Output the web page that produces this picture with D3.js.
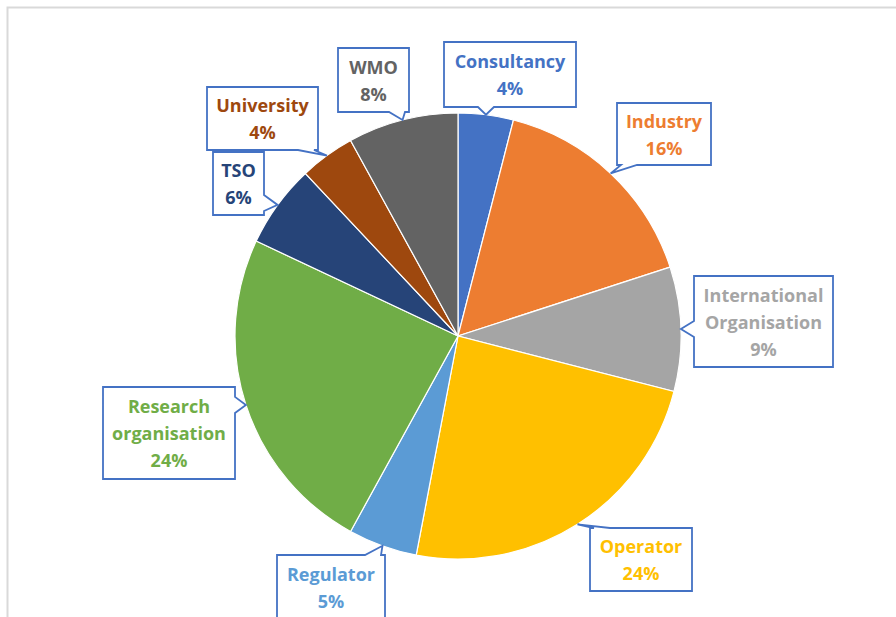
<!DOCTYPE html>
<html>
<head>
<meta charset="utf-8">
<script src="https://cdn.jsdelivr.net/npm/d3@7"></script>
<style>
  html, body { margin: 0; padding: 0; background: #fff; }
  svg { display: block; }
  .lbl { font-family: "Open Sans", "Liberation Sans", sans-serif; font-weight: 700; font-size: 18px; }
</style>
</head>
<body>
<div id="chart"></div>
<script>
// Datos (desde las 12 en punto, sentido horario)
const categorias = ["Consultancy", "Industry", "International Organisation", "Operator",
  "Regulator", "Research organisation", "TSO", "University", "WMO"];
const valores = [4, 16, 9, 24, 5, 24, 6, 4, 8];
const colores = ["#4472C4", "#ED7D31", "#A5A5A5", "#FFC000",
  "#5B9BD5", "#70AD47", "#264478", "#9E480E", "#636363"];
// lineas de texto de cada etiqueta
const lineas = [["Consultancy"], ["Industry"], ["International", "Organisation"], ["Operator"],
  ["Regulator"], ["Research", "organisation"], ["TSO"], ["University"], ["WMO"]];

// Cajas de las etiquetas (x0, y0, x1, y1)
const cajas = [
  [444, 42, 576, 107],
  [617, 103, 711, 165],
  [694, 276, 833, 367],
  [590, 528, 692, 591],
  [277, 555, 385, 620],
  [103, 387, 235, 479],
  [213, 152, 264, 215],
  [207, 87, 318, 150],
  [338, 48, 409, 112]
];

const width = 896, height = 617;
const cx = 458, cy = 336, radio = 223;

const svg = d3.select("#chart").append("svg")
  .attr("width", width).attr("height", height);

// Marco gris
svg.append("rect")
  .attr("x", 7.5).attr("y", 7.5)
  .attr("width", width + 20).attr("height", height + 20)
  .attr("fill", "none").attr("stroke", "#d9d9d9").attr("stroke-width", 2);

const datos = categorias.map((c, i) => ({ cat: c, v: valores[i], color: colores[i], lineas: lineas[i], caja: cajas[i] }));

const pie = d3.pie().value(d => d.v).sort(null);
const arcs = pie(datos);
const arco = d3.arc().innerRadius(0).outerRadius(radio);

const g = svg.append("g").attr("transform", `translate(${cx},${cy})`);

g.selectAll("path.slice")
  .data(arcs)
  .enter()
  .append("path")
  .attr("class", "slice")
  .attr("d", arco)
  .attr("fill", d => d.data.color)
  .attr("stroke", "#fff")
  .attr("stroke-width", 1.2);

// Forma de globo con punta
function globo(b, tip) {
  const [x0, y0, x1, y1] = b;
  const [tx, ty] = tip;
  const ancho = 8;
  const clampX = v => Math.max(x0 + 2, Math.min(x1 - 2, v));
  const clampY = v => Math.max(y0 + 2, Math.min(y1 - 2, v));
  if (ty < y0) {
    const c = Math.max(x0 + ancho + 4, Math.min(x1 - ancho - 4, tx));
    const a = clampX(c - ancho), bb = clampX(c + ancho);
    return `M${x0},${y0}L${a},${y0}L${tx},${ty}L${bb},${y0}L${x1},${y0}L${x1},${y1}L${x0},${y1}Z`;
  } else if (ty > y1) {
    const c = Math.max(x0 + ancho + 4, Math.min(x1 - ancho - 4, tx));
    const a = clampX(c - ancho), bb = clampX(c + ancho);
    return `M${x0},${y0}L${x1},${y0}L${x1},${y1}L${bb},${y1}L${tx},${ty}L${a},${y1}L${x0},${y1}Z`;
  } else if (tx > x1) {
    const c = Math.max(y0 + ancho + 4, Math.min(y1 - ancho - 4, ty));
    const a = clampY(c - ancho), bb = clampY(c + ancho);
    return `M${x0},${y0}L${x1},${y0}L${x1},${a}L${tx},${ty}L${x1},${bb}L${x1},${y1}L${x0},${y1}Z`;
  } else {
    const c = Math.max(y0 + ancho + 4, Math.min(y1 - ancho - 4, ty));
    const a = clampY(c - ancho), bb = clampY(c + ancho);
    return `M${x0},${y0}L${x1},${y0}L${x1},${y1}L${x0},${y1}L${x0},${bb}L${tx},${ty}L${x0},${a}Z`;
  }
}

const etiquetas = svg.selectAll("g.etq")
  .data(arcs)
  .enter()
  .append("g")
  .attr("class", "etq");

etiquetas.append("path")
  .attr("d", d => {
    const ang = (d.startAngle + d.endAngle) / 2;
    const tip = [cx + radio * Math.sin(ang), cy - radio * Math.cos(ang)];
    return globo(d.data.caja, tip);
  })
  .attr("fill", "#fff")
  .attr("stroke", "#4472C4")
  .attr("stroke-width", 1.8)
  .attr("stroke-linejoin", "miter");

etiquetas.each(function(d) {
  const [x0, y0, x1, y1] = d.data.caja;
  const textos = d.data.lineas.concat([d.data.v + "%"]);
  const paso = 27;
  const mx = (x0 + x1) / 2;
  const my = (y0 + y1) / 2;
  const inicio = my - (textos.length - 1) * paso / 2;
  d3.select(this).selectAll("text")
    .data(textos)
    .enter()
    .append("text")
    .attr("class", "lbl")
    .attr("x", mx)
    .attr("y", (t, i) => inicio + i * paso)
    .attr("text-anchor", "middle")
    .attr("dominant-baseline", "central")
    .attr("fill", d.data.color)
    .text(t => t);
});
</script>
</body>
</html>
